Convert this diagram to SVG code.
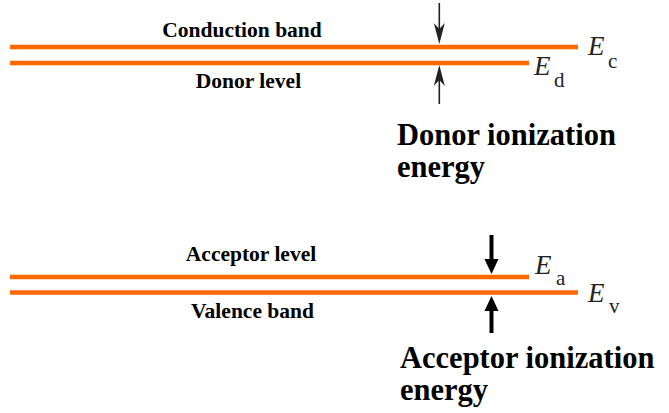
<svg xmlns="http://www.w3.org/2000/svg" width="669" height="413" viewBox="0 0 669 413">
<style>
.band{stroke:#FF6A00;stroke-width:4.5;fill:none}
.lbl{font-weight:bold;font-size:21.5px;fill:#000;text-anchor:middle}
.big{font-weight:bold;font-size:30.5px;fill:#000}
.E{font-style:italic;font-size:27px;fill:#222}
.sub{font-size:21px;fill:#222}
.thin{stroke:#222;stroke-width:1.6;fill:none}
.thick{stroke:#000;stroke-width:4;fill:none}
</style>
<rect width="669" height="413" fill="#fff"/>
<g font-family="Liberation Serif, Times New Roman, DejaVu Serif, serif">
<g id="conduction">
<line class="band" x1="10" y1="47" x2="578" y2="47"/>
<text class="lbl" x="242" y="37">Conduction band</text>
<text class="E" x="588" y="55">E</text><text class="sub" x="608" y="68">c</text>
</g>
<g id="donor">
<line class="band" x1="10" y1="63" x2="529" y2="63"/>
<text class="lbl" x="248.5" y="88">Donor level</text>
<text class="E" x="534" y="75">E</text><text class="sub" x="554" y="87">d</text>
</g>
<g id="acceptor">
<line class="band" x1="10" y1="277" x2="529" y2="277"/>
<text class="lbl" x="251" y="261">Acceptor level</text>
<text class="E" x="535" y="274">E</text><text class="sub" x="556" y="285">a</text>
</g>
<g id="valence">
<line class="band" x1="10" y1="292.5" x2="578" y2="292.5"/>
<text class="lbl" x="252.5" y="318">Valence band</text>
<text class="E" x="588" y="302">E</text><text class="sub" x="609" y="313">v</text>
</g>
<g id="donor-energy">
<text class="big" x="397" y="145">Donor ionization</text>
<text class="big" x="397" y="177">energy</text>
</g>
<g id="acceptor-energy">
<text class="big" x="400" y="368">Acceptor ionization</text>
<text class="big" x="400" y="400">energy</text>
</g>
</g>
<g id="connectors">
<line class="thin" x1="439.3" y1="3" x2="439.3" y2="30"/>
<path d="M439.3,44 L433.8,23 L439.3,29 L444.8,23 Z" fill="#222"/>
<line class="thin" x1="439.3" y1="80" x2="439.3" y2="104"/>
<path d="M439.3,65 L433.8,86 L439.3,80 L444.8,86 Z" fill="#222"/>
<line class="thick" x1="491.5" y1="235" x2="491.5" y2="262"/>
<path d="M491.5,274 L484.5,259 L498.5,259 Z" fill="#000"/>
<line class="thick" x1="491.5" y1="308" x2="491.5" y2="333"/>
<path d="M491.5,296 L484.5,311 L498.5,311 Z" fill="#000"/>
</g>
</svg>
